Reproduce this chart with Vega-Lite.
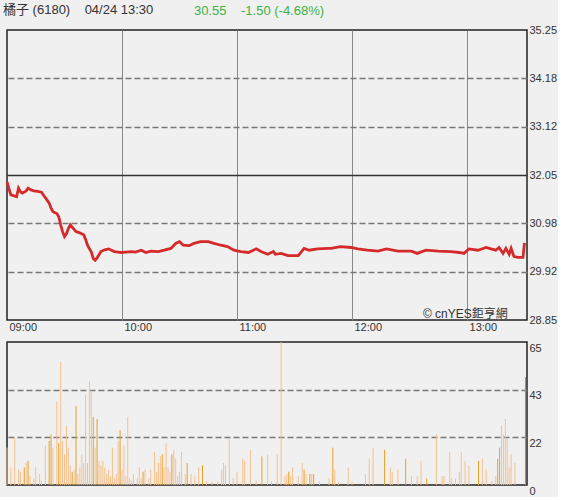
{
  "$schema": "https://vega.github.io/schema/vega-lite/v6.json",
  "background": "#f0f0f0",
  "padding": {"left": 0, "top": 4, "right": 0, "bottom": 0},
  "config": {
    "font": "Liberation Sans",
    "view": {"stroke": "#222", "strokeWidth": 1.5},
    "axis": {"labelFont": "Liberation Sans", "labelFontSize": 11, "labelColor": "#333", "domain": false, "ticks": false, "title": null, "labelFlush": false, "labelOverlap": false}
  },
  "title": {
    "text": "橘子 (6180)\u00a0\u00a0\u00a0\u00a004/24 13:30",
    "anchor": "start",
    "frame": "group",
    "dx": -4,
    "dy": 13,
    "offset": 0,
    "font": "Liberation Sans, Noto Sans CJK TC",
    "fontSize": 13,
    "fontWeight": "normal",
    "color": "#333"
  },
  "spacing": 7,
  "datasets": {
    "price": [
      {"m": 0, "p": 31.90}, {"m": 1, "p": 31.75}, {"m": 2, "p": 31.61}, {"m": 3, "p": 31.60},
      {"m": 5, "p": 31.57}, {"m": 6, "p": 31.76}, {"m": 7, "p": 31.68}, {"m": 8, "p": 31.65},
      {"m": 10, "p": 31.70}, {"m": 11, "p": 31.76}, {"m": 12.5, "p": 31.72}, {"m": 14, "p": 31.70},
      {"m": 16, "p": 31.69}, {"m": 18, "p": 31.67}, {"m": 19, "p": 31.61}, {"m": 20, "p": 31.55},
      {"m": 22, "p": 31.43}, {"m": 23, "p": 31.32}, {"m": 24, "p": 31.24}, {"m": 26, "p": 31.20},
      {"m": 27, "p": 31.13}, {"m": 28, "p": 30.95}, {"m": 29, "p": 30.80}, {"m": 30, "p": 30.69},
      {"m": 31, "p": 30.75}, {"m": 32, "p": 30.87}, {"m": 33, "p": 30.95}, {"m": 34, "p": 30.90},
      {"m": 36, "p": 30.80}, {"m": 37.6, "p": 30.78}, {"m": 40, "p": 30.73}, {"m": 41, "p": 30.63},
      {"m": 42, "p": 30.50}, {"m": 44, "p": 30.35}, {"m": 45, "p": 30.21}, {"m": 46, "p": 30.17},
      {"m": 47, "p": 30.22}, {"m": 49, "p": 30.36}, {"m": 51, "p": 30.40}, {"m": 53, "p": 30.42},
      {"m": 54, "p": 30.40}, {"m": 56, "p": 30.36}, {"m": 58, "p": 30.35}, {"m": 59.5, "p": 30.34},
      {"m": 62, "p": 30.35}, {"m": 65, "p": 30.36}, {"m": 67, "p": 30.35}, {"m": 70, "p": 30.39},
      {"m": 72.5, "p": 30.34}, {"m": 75, "p": 30.37}, {"m": 79, "p": 30.36}, {"m": 82, "p": 30.39},
      {"m": 85.5, "p": 30.43}, {"m": 88, "p": 30.54}, {"m": 90, "p": 30.58}, {"m": 92, "p": 30.50},
      {"m": 95, "p": 30.49}, {"m": 97.5, "p": 30.54}, {"m": 101, "p": 30.58}, {"m": 105, "p": 30.58},
      {"m": 108, "p": 30.54}, {"m": 111.6, "p": 30.50}, {"m": 115, "p": 30.47}, {"m": 118.4, "p": 30.39},
      {"m": 122, "p": 30.36}, {"m": 126, "p": 30.34}, {"m": 130, "p": 30.42}, {"m": 132.5, "p": 30.36},
      {"m": 136, "p": 30.30}, {"m": 139, "p": 30.36}, {"m": 140, "p": 30.30}, {"m": 143, "p": 30.32},
      {"m": 146.6, "p": 30.27}, {"m": 152, "p": 30.27}, {"m": 155, "p": 30.43}, {"m": 157.6, "p": 30.39},
      {"m": 162, "p": 30.42}, {"m": 167.5, "p": 30.43}, {"m": 169, "p": 30.43}, {"m": 174, "p": 30.47},
      {"m": 179.5, "p": 30.45}, {"m": 183, "p": 30.42}, {"m": 188, "p": 30.39}, {"m": 193.5, "p": 30.37},
      {"m": 198, "p": 30.42}, {"m": 204, "p": 30.37}, {"m": 211, "p": 30.37}, {"m": 214, "p": 30.32},
      {"m": 218.6, "p": 30.39}, {"m": 225, "p": 30.37}, {"m": 231.6, "p": 30.36}, {"m": 236, "p": 30.34},
      {"m": 238.4, "p": 30.32}, {"m": 241, "p": 30.42}, {"m": 245.7, "p": 30.39}, {"m": 250, "p": 30.45},
      {"m": 252.5, "p": 30.42}, {"m": 255, "p": 30.39}, {"m": 256.7, "p": 30.45}, {"m": 258.8, "p": 30.32},
      {"m": 260.3, "p": 30.43}, {"m": 262, "p": 30.30}, {"m": 263, "p": 30.43}, {"m": 264.5, "p": 30.25},
      {"m": 266.6, "p": 30.23}, {"m": 269.2, "p": 30.23}, {"m": 270, "p": 30.55}
    ],
    "vol": [
      {"m": 0, "v": 17, "c": "a"}, {"m": 2, "v": 8, "c": "a"}, {"m": 4, "v": 21, "c": "a"}, {"m": 6, "v": 7, "c": "a"},
      {"m": 7, "v": 6, "c": "a"}, {"m": 9, "v": 8, "c": "b"}, {"m": 10, "v": 10, "c": "a"}, {"m": 11, "v": 11, "c": "b"},
      {"m": 12, "v": 4, "c": "a"}, {"m": 14, "v": 3, "c": "a"}, {"m": 15, "v": 8, "c": "a"}, {"m": 17, "v": 5, "c": "a"},
      {"m": 18, "v": 2, "c": "a"}, {"m": 20, "v": 18, "c": "a"}, {"m": 22, "v": 20, "c": "b"}, {"m": 23, "v": 23, "c": "b"},
      {"m": 24, "v": 17, "c": "a"}, {"m": 26, "v": 38, "c": "a"}, {"m": 27, "v": 19, "c": "b"}, {"m": 28, "v": 56, "c": "a"},
      {"m": 29, "v": 20, "c": "a"}, {"m": 30, "v": 14, "c": "a"}, {"m": 31, "v": 27, "c": "a"}, {"m": 32, "v": 17, "c": "a"},
      {"m": 33, "v": 9, "c": "a"}, {"m": 34, "v": 6, "c": "b"}, {"m": 35, "v": 7, "c": "a"}, {"m": 36, "v": 36, "c": "b"},
      {"m": 37, "v": 5, "c": "a"}, {"m": 38, "v": 8, "c": "a"}, {"m": 39, "v": 14, "c": "a"}, {"m": 40, "v": 10, "c": "a"},
      {"m": 41, "v": 41, "c": "a"}, {"m": 42, "v": 10, "c": "a"}, {"m": 43, "v": 47, "c": "a"}, {"m": 44, "v": 43, "c": "a"},
      {"m": 45, "v": 31, "c": "b"}, {"m": 46, "v": 17, "c": "a"}, {"m": 47, "v": 30, "c": "b"}, {"m": 48, "v": 11, "c": "a"},
      {"m": 49, "v": 9, "c": "a"}, {"m": 50, "v": 11, "c": "a"}, {"m": 51, "v": 8, "c": "a"}, {"m": 52, "v": 5, "c": "a"},
      {"m": 53, "v": 7, "c": "a"}, {"m": 54, "v": 4, "c": "a"}, {"m": 55, "v": 17, "c": "a"}, {"m": 56, "v": 3, "c": "a"},
      {"m": 57, "v": 5, "c": "a"}, {"m": 58, "v": 20, "c": "a"}, {"m": 59, "v": 25, "c": "b"}, {"m": 60, "v": 7, "c": "a"},
      {"m": 61, "v": 18, "c": "a"}, {"m": 62, "v": 4, "c": "a"}, {"m": 63, "v": 31, "c": "a"}, {"m": 64, "v": 3, "c": "a"},
      {"m": 65, "v": 2, "c": "a"}, {"m": 66, "v": 5, "c": "a"}, {"m": 68, "v": 3, "c": "a"}, {"m": 69, "v": 8, "c": "a"},
      {"m": 70, "v": 3, "c": "a"}, {"m": 71, "v": 6, "c": "b"}, {"m": 72, "v": 7, "c": "a"}, {"m": 74, "v": 3, "c": "a"},
      {"m": 75, "v": 7, "c": "a"}, {"m": 77, "v": 15, "c": "a"}, {"m": 78, "v": 6, "c": "a"}, {"m": 79, "v": 10, "c": "a"},
      {"m": 80, "v": 13, "c": "a"}, {"m": 81, "v": 14, "c": "b"}, {"m": 82, "v": 8, "c": "a"}, {"m": 83, "v": 19, "c": "a"},
      {"m": 84, "v": 8, "c": "a"}, {"m": 85, "v": 6, "c": "a"}, {"m": 86, "v": 14, "c": "b"}, {"m": 87, "v": 16, "c": "a"},
      {"m": 88, "v": 12, "c": "a"}, {"m": 89, "v": 4, "c": "a"}, {"m": 90, "v": 6, "c": "a"}, {"m": 91, "v": 15, "c": "a"},
      {"m": 93, "v": 5, "c": "a"}, {"m": 94, "v": 10, "c": "b"}, {"m": 96, "v": 5, "c": "a"}, {"m": 98, "v": 4, "c": "a"},
      {"m": 100, "v": 8, "c": "a"}, {"m": 102, "v": 9, "c": "b"}, {"m": 104, "v": 2, "c": "a"}, {"m": 107, "v": 1.5, "c": "a"},
      {"m": 110, "v": 1.5, "c": "a"}, {"m": 112, "v": 7, "c": "a"}, {"m": 113, "v": 10, "c": "a"}, {"m": 114, "v": 9, "c": "a"},
      {"m": 116, "v": 21, "c": "a"}, {"m": 118, "v": 3, "c": "a"}, {"m": 120, "v": 6, "c": "a"}, {"m": 123, "v": 12, "c": "a"},
      {"m": 124, "v": 11, "c": "a"}, {"m": 127, "v": 16, "c": "a"}, {"m": 130, "v": 2, "c": "a"}, {"m": 133, "v": 13, "c": "b"},
      {"m": 136, "v": 14, "c": "a"}, {"m": 138, "v": 1.5, "c": "a"}, {"m": 141, "v": 14, "c": "a"}, {"m": 143, "v": 65, "c": "a"},
      {"m": 145, "v": 4, "c": "a"}, {"m": 146, "v": 5, "c": "a"}, {"m": 147, "v": 6, "c": "b"}, {"m": 148, "v": 4, "c": "a"},
      {"m": 149, "v": 8, "c": "a"}, {"m": 152, "v": 4, "c": "a"}, {"m": 154, "v": 10, "c": "a"}, {"m": 155, "v": 7, "c": "b"},
      {"m": 156, "v": 5, "c": "a"}, {"m": 158, "v": 5, "c": "b"}, {"m": 159, "v": 5, "c": "a"}, {"m": 160, "v": 5, "c": "b"},
      {"m": 163, "v": 1.5, "c": "a"}, {"m": 168, "v": 3, "c": "a"}, {"m": 170, "v": 17, "c": "b"}, {"m": 171, "v": 7, "c": "a"},
      {"m": 173, "v": 1.5, "c": "a"}, {"m": 178, "v": 8, "c": "a"}, {"m": 180, "v": 1.5, "c": "a"}, {"m": 187, "v": 5, "c": "a"},
      {"m": 189, "v": 12, "c": "a"}, {"m": 191, "v": 17, "c": "a"}, {"m": 197, "v": 16, "c": "b"}, {"m": 200, "v": 8, "c": "a"},
      {"m": 201, "v": 6, "c": "a"}, {"m": 204, "v": 7, "c": "a"}, {"m": 208, "v": 12, "c": "b"}, {"m": 211, "v": 4, "c": "a"},
      {"m": 214, "v": 4, "c": "a"}, {"m": 216, "v": 11, "c": "a"}, {"m": 219, "v": 3, "c": "b"}, {"m": 224, "v": 23, "c": "a"},
      {"m": 227, "v": 4, "c": "a"}, {"m": 228, "v": 4, "c": "a"}, {"m": 231, "v": 15, "c": "a"}, {"m": 232, "v": 3, "c": "a"},
      {"m": 234, "v": 3, "c": "a"}, {"m": 236, "v": 6, "c": "a"}, {"m": 237, "v": 15, "c": "a"}, {"m": 239, "v": 11, "c": "a"},
      {"m": 241, "v": 9, "c": "a"}, {"m": 246, "v": 11, "c": "b"}, {"m": 248, "v": 12, "c": "a"}, {"m": 250, "v": 7, "c": "a"},
      {"m": 253, "v": 2, "c": "a"}, {"m": 255, "v": 4, "c": "a"}, {"m": 256, "v": 12, "c": "b"}, {"m": 257, "v": 17, "c": "b"},
      {"m": 258, "v": 27, "c": "a"}, {"m": 259, "v": 23, "c": "a"}, {"m": 260, "v": 30, "c": "a"}, {"m": 261, "v": 21, "c": "a"},
      {"m": 262, "v": 8, "c": "a"}, {"m": 263, "v": 14, "c": "a"}, {"m": 265, "v": 10, "c": "a"}, {"m": 270.5, "v": 49, "c": "e"}
    ]
  },
  "vconcat": [
    {
      "width": 520,
      "height": 290,
      "title": {
        "text": "30.55\u00a0\u00a0\u00a0\u00a0-1.50 (-4.68%)",
        "anchor": "start",
        "frame": "group",
        "dx": 187,
        "offset": 6,
        "font": "Liberation Sans",
        "fontSize": 13,
        "fontWeight": "normal",
        "color": "#3fb03f"
      },
      "layer": [
        {
          "data": {"name": "price"},
          "mark": {"type": "line", "color": "#d42a2a", "strokeWidth": 2.8},
          "encoding": {
            "x": {
              "field": "m", "type": "quantitative",
              "scale": {"domain": [0, 271.3], "nice": false, "zero": false},
              "axis": {
                "orient": "bottom",
                "values": [0, 60, 120, 180, 240],
                "labelExpr": "datum.value == 0 ? '09:00' : datum.value == 60 ? '10:00' : datum.value == 120 ? '11:00' : datum.value == 180 ? '12:00' : '13:00'",
                "labelAlign": "left",
                "labelBaseline": "top",
                "labelPadding": 1,
                "labelOffset": 2,
                "grid": true,
                "gridColor": "#888",
                "gridWidth": 1,
                "gridOpacity": {"condition": {"test": "datum.value == 0", "value": 0}, "value": 1}
              }
            },
            "y": {
              "field": "p", "type": "quantitative",
              "scale": {"domain": [28.85, 35.25], "nice": false, "zero": false},
              "axis": {
                "orient": "right",
                "values": [28.85, 29.9167, 30.9833, 32.05, 33.1167, 34.1833, 35.25],
                "format": ".2f",
                "labelBaseline": "alphabetic",
                "labelOffset": 3,
                "labelPadding": 2,
                "grid": true,
                "gridColor": {"condition": {"test": "abs(datum.value - 32.05) < 0.01", "value": "#333"}, "value": "#777"},
                "gridDash": {"condition": {"test": "abs(datum.value - 32.05) < 0.01", "value": []}, "value": [6, 3]},
                "gridWidth": 1.5,
                "gridOpacity": {"condition": {"test": "datum.value < 28.9 || datum.value > 35.2", "value": 0}, "value": 1}
              }
            }
          }
        },
        {
          "data": {"values": [{"t": "© cnYES鉅亨網", "m": 217, "p": 28.89}]},
          "mark": {"type": "text", "align": "left", "baseline": "alphabetic", "fontSize": 12, "color": "#333", "font": "Liberation Sans, Noto Sans CJK TC"},
          "encoding": {
            "x": {"field": "m", "type": "quantitative"},
            "y": {"field": "p", "type": "quantitative"},
            "text": {"field": "t"}
          }
        }
      ]
    },
    {
      "width": 520,
      "height": 143,
      "data": {"name": "vol"},
      "mark": {"type": "rule", "strokeWidth": 1},
      "encoding": {
        "x": {"field": "m", "type": "quantitative", "scale": {"domain": [0, 271.3], "nice": false, "zero": false}, "axis": null},
        "y": {
          "field": "v", "type": "quantitative",
          "scale": {"domain": [0, 65], "nice": false},
          "axis": {
            "orient": "right",
            "values": [0, 21.667, 43.333, 65],
            "format": ".0f",
            "labelBaseline": "top",
            "labelOffset": 0,
            "labelPadding": 2,
            "grid": true,
            "gridColor": "#777",
            "gridDash": [6, 3],
            "gridWidth": 1.5,
            "gridOpacity": {"condition": {"test": "datum.value < 1 || datum.value > 64", "value": 0}, "value": 1}
          }
        },
        "y2": {"datum": 0},
        "color": {"field": "c", "type": "nominal", "scale": {"domain": ["a", "b", "e"], "range": ["#f8c08c", "#e6a126", "#e07a1e"]}, "legend": null}
      }
    }
  ]
}
